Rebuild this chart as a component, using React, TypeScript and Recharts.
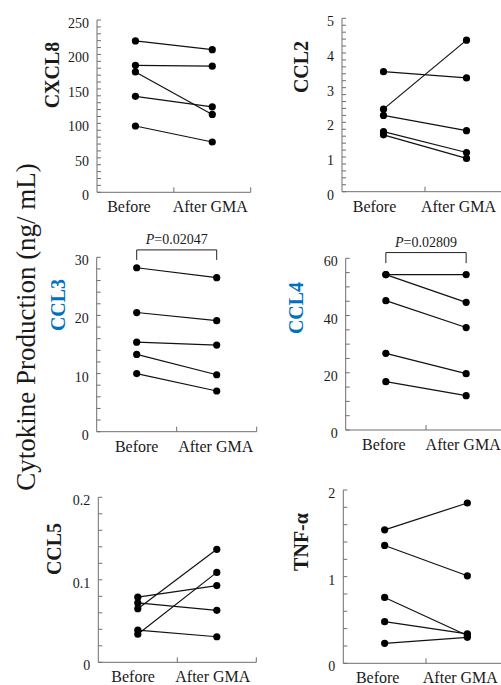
import React from 'react';
import { LineChart, Line, XAxis, YAxis, ReferenceLine } from 'recharts';

// ---- data ----
const groups = ['Before', 'After GMA'];

const cxcl8Before = [219.6, 184.3, 174.6, 139.3, 96.2];
const cxcl8After = [207, 183, 113, 124, 73];
const cxcl8Ticks = [0, 50, 100, 150, 200, 250];

const ccl2Before = [3.46, 2.38, 2.2, 1.73, 1.64];
const ccl2After = [3.28, 4.37, 1.76, 1.13, 0.96];
const ccl2Ticks = [0, 1, 2, 3, 4, 5];

const ccl3Before = [28.2, 20.5, 15.4, 13.3, 10.0];
const ccl3After = [26.5, 19.1, 14.9, 9.8, 7.0];
const ccl3Ticks = [0, 10, 20, 30];

const ccl4Before = [54.3, 54.3, 45.2, 26.8, 16.9];
const ccl4After = [54.3, 44.6, 35.8, 19.7, 12.0];
const ccl4Ticks = [0, 20, 40, 60];

const ccl5Before = [0.079, 0.072, 0.065, 0.039, 0.034];
const ccl5After = [0.093, 0.063, 0.137, 0.031, 0.109];
const ccl5Ticks = [0, 0.1, 0.2];

const tnfBefore = [1.54, 1.36, 0.76, 0.48, 0.23];
const tnfAfter = [1.85, 1.01, 0.32, 0.34, 0.3];
const tnfTicks = [0, 1, 2];

const pCCL3 = 'P=0.02047';
const pCCL4 = 'P=0.02809';

// ---- style ----
const SERIF = "'Liberation Serif', 'Times New Roman', serif";
const AXIS = '#6e6e6e';
const TXT = '#1a1a1a';
const BLUE = '#0070C0';
const W = 501;
const H = 685;

type PanelCfg = {
  title: string;
  titleColor: string;
  titleX: number;
  titleY: number;
  before: number[];
  after: number[];
  majors: number[];
  minorStep: number;
  L: number;
  R: number;
  T: number;
  B: number;
  shift: [number, number];
  p?: { text: string; lo: number; hi: number };
};

const makeXTick = (shift: [number, number]) => (props: any) => {
  const { x, y, payload } = props;
  const v = payload.value;
  if (v === 1 || v === 2) {
    return <line x1={x} x2={x} y1={y} y2={y - 5} stroke={AXIS} strokeWidth={1} />;
  }
  const idx = v < 1 ? 0 : 1;
  return (
    <text x={x + shift[idx]} y={y + 20} textAnchor="middle" fontSize={16} fill={TXT} fontFamily={SERIF}>
      {groups[idx]}
    </text>
  );
};

const makeYTick = (majors: number[]) => (props: any) => {
  const { x, y, payload } = props;
  const v = payload.value;
  const isMajor = majors.some((m) => Math.abs(m - v) < 1e-9);
  return (
    <g>
      <line x1={x} x2={x + 4} y1={y} y2={y} stroke={AXIS} strokeWidth={1} />
      {isMajor && (
        <text x={x - 8} y={y + 8} textAnchor="end" fontSize={14} fill={TXT} fontFamily={SERIF}>
          {String(v)}
        </text>
      )}
    </g>
  );
};

const Panel = ({ cfg }: { cfg: PanelCfg }) => {
  const n = cfg.before.length;
  const row0: any = { x: 0.5 };
  const row1: any = { x: 1.5 };
  for (let i = 0; i < n; i++) {
    row0['s' + i] = cfg.before[i];
    row1['s' + i] = cfg.after[i];
  }
  const data = [row0, row1];
  const max = cfg.majors[cfg.majors.length - 1];
  const count = Math.round(max / cfg.minorStep);
  const ticks: number[] = [];
  for (let i = 0; i <= count; i++) ticks.push(Number((i * cfg.minorStep).toFixed(6)));
  const margin = { top: cfg.T, left: cfg.L - 60, right: W - cfg.R, bottom: H - cfg.B - 30 };
  const pLabel = (text: string) => (props: any) => {
    const vb = props.viewBox || {};
    const cx = vb.x + (vb.width || 0) / 2;
    return (
      <text x={cx} y={vb.y - 6} textAnchor="middle" fontSize={14} fill={TXT} fontFamily={SERIF}>
        <tspan fontStyle="italic">{text.slice(0, 1)}</tspan>
        {text.slice(1)}
      </text>
    );
  };
  return (
    <div style={{ position: 'absolute', left: 0, top: 0 }}>
      <LineChart width={W} height={H} data={data} margin={margin}>
        <XAxis
          type="number"
          dataKey="x"
          domain={[0, 2]}
          ticks={[0.5, 1, 1.5, 2]}
          interval={0}
          height={30}
          tickSize={0}
          tickMargin={0}
          tickLine={false}
          axisLine={{ stroke: AXIS, strokeWidth: 1 }}
          tick={makeXTick(cfg.shift)}
        />
        <YAxis
          type="number"
          domain={[0, max]}
          ticks={ticks}
          interval={0}
          width={60}
          tickSize={0}
          tickMargin={0}
          tickLine={false}
          axisLine={{ stroke: AXIS, strokeWidth: 1 }}
          tick={makeYTick(cfg.majors)}
        />
        {cfg.p && (
          <ReferenceLine
            segment={[{ x: 0.5, y: cfg.p.lo }, { x: 0.5, y: cfg.p.hi }]}
            stroke="#222"
            strokeWidth={1}
            ifOverflow="visible"
          />
        )}
        {cfg.p && (
          <ReferenceLine
            segment={[{ x: 1.5, y: cfg.p.lo }, { x: 1.5, y: cfg.p.hi }]}
            stroke="#222"
            strokeWidth={1}
            ifOverflow="visible"
          />
        )}
        {cfg.p && (
          <ReferenceLine
            segment={[{ x: 0.5, y: cfg.p.hi }, { x: 1.5, y: cfg.p.hi }]}
            stroke="#222"
            strokeWidth={1}
            ifOverflow="visible"
            label={pLabel(cfg.p.text)}
          />
        )}
        {cfg.before.map((_, i) => (
          <Line
            key={i}
            type="linear"
            dataKey={'s' + i}
            stroke="#111"
            strokeWidth={1.2}
            dot={{ r: 3.6, fill: '#000', stroke: '#000', strokeWidth: 0 }}
            isAnimationActive={false}
          />
        ))}
      </LineChart>
    </div>
  );
};

const panels: PanelCfg[] = [
  { title: 'CXCL8', titleColor: TXT, titleX: 59, titleY: 75, before: cxcl8Before, after: cxcl8After, majors: cxcl8Ticks, minorStep: 10, L: 97, R: 250.7, T: 20, B: 192.3, shift: [-6.5, -2] },
  { title: 'CCL2', titleColor: TXT, titleX: 308, titleY: 67, before: ccl2Before, after: ccl2After, majors: ccl2Ticks, minorStep: 0.2, L: 342, R: 508, T: 18.3, B: 191.7, shift: [-9, -8] },
  { title: 'CCL3', titleColor: BLUE, titleX: 65, titleY: 305, before: ccl3Before, after: ccl3After, majors: ccl3Ticks, minorStep: 2, L: 96.7, R: 256.7, T: 257.3, B: 431.7, shift: [0, -1], p: { text: pCCL3, lo: 29.55, hi: 31.27 } },
  { title: 'CCL4', titleColor: BLUE, titleX: 303, titleY: 308, before: ccl4Before, after: ccl4After, majors: ccl4Ticks, minorStep: 5, L: 345.7, R: 506.3, T: 258.3, B: 430, shift: [-2, -3], p: { text: pCCL4, lo: 58.3, hi: 62.0 } },
  { title: 'CCL5', titleColor: TXT, titleX: 61, titleY: 549, before: ccl5Before, after: ccl5After, majors: ccl5Ticks, minorStep: 0.02, L: 98.3, R: 256.3, T: 497.3, B: 662.3, shift: [-4.7, -4] },
  { title: 'TNF-α', titleColor: TXT, titleX: 308, titleY: 542, before: tnfBefore, after: tnfAfter, majors: tnfTicks, minorStep: 0.2, L: 343.3, R: 508.7, T: 490, B: 663.3, shift: [-7, -7] },
];

export default function App() {
  return (
    <div style={{ position: 'absolute', left: 0, top: 0, width: W, height: H, overflow: 'hidden', background: '#fff' }}>
      {panels.map((p, i) => (
        <Panel key={i} cfg={p} />
      ))}
      <svg width={W} height={H} style={{ position: 'absolute', left: 0, top: 0, pointerEvents: 'none' }}>
        {panels.map((p, i) => (
          <text
            key={i}
            transform={`translate(${p.titleX},${p.titleY}) rotate(-90)`}
            textAnchor="middle"
            fontSize={20}
            fontWeight="bold"
            fill={p.titleColor}
            fontFamily={SERIF}
          >
            {p.title}
          </text>
        ))}
        <text
          transform="translate(35,327) rotate(-90)"
          textAnchor="middle"
          fontSize={27}
          fill={TXT}
          fontFamily={SERIF}
        >
          Cytokine Production (ng/ mL)
        </text>
      </svg>
    </div>
  );
}
